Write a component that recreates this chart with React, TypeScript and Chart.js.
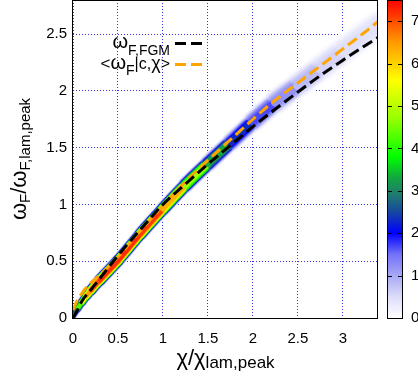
import React, { useEffect, useRef } from "react";
import { Chart, registerables } from "chart.js";

Chart.register(...registerables);

const FONT = "'Liberation Sans', Arial, Helvetica, sans-serif";

// FGM reference curve  ω_F,FGM(χ)
const chiFGM = [0, 0.05, 0.1, 0.2, 0.3, 0.5, 0.75, 1.0, 1.25, 1.5, 1.75, 2.0, 2.25, 2.5, 2.75, 3.0, 3.25, 3.39];
const omegaFGM = [0, 0.07, 0.15, 0.25, 0.35, 0.55, 0.78, 1.0, 1.18, 1.355, 1.52, 1.685, 1.84, 1.99, 2.135, 2.27, 2.4, 2.47];

// conditional mean <ω_F | c, χ>
const chiMean = [0, 0.05, 0.1, 0.15, 0.2, 0.3, 0.5, 0.75, 1.0, 1.25, 1.5, 1.75, 2.0, 2.25, 2.5, 2.75, 3.0, 3.25, 3.39];
const omegaMean = [0.07, 0.16, 0.22, 0.27, 0.31, 0.38, 0.54, 0.77, 0.99, 1.2, 1.39, 1.57, 1.75, 1.92, 2.07, 2.22, 2.37, 2.52, 2.61];

// joint PDF of (χ, ω_F): ridge location, peak value and spread in ω
const chiRidge = [0, 0.05, 0.1, 0.15, 0.2, 0.3, 0.5, 0.75, 1.0, 1.25, 1.5, 1.75, 2.0, 2.25, 2.5, 2.75, 3.0, 3.25, 3.39];
const omegaRidge = [0.02, 0.08, 0.14, 0.195, 0.245, 0.335, 0.505, 0.74, 0.96, 1.17, 1.36, 1.545, 1.73, 1.9, 2.05, 2.2, 2.35, 2.5, 2.58];
const pdfPeak = [2.2, 3.8, 5.3, 6.4, 7.1, 7.5, 7.5, 7.5, 7.3, 5.8, 4.1, 2.8, 2.0, 1.5, 1.0, 0.7, 0.5, 0.45, 0.4];
const pdfSpread = [0.042, 0.045, 0.048, 0.05, 0.052, 0.055, 0.057, 0.059, 0.06, 0.064, 0.068, 0.074, 0.082, 0.09, 0.097, 0.103, 0.108, 0.112, 0.112];

// axis ranges
const chiMax = 3.39;
const omegaMax = 2.8;
const tickStep = 0.5;
const pdfMax = 7.5;

// colour scale of the PDF
const cmapValues = [0, 0.5, 1, 1.5, 2, 2.5, 2.9, 3.3, 3.8, 4.7, 5.6, 6.5, 7.5];
const cmapColors = ["#ffffff", "#dcdcfa", "#a8a8f5", "#7272f8", "#0000ff", "#1646a0", "#1f7a70", "#12a540", "#00ff00", "#96ff00", "#ffff00", "#ff9a00", "#ff0000"];

// iso-levels (fraction of local peak) used to shade the PDF ribbon
const ribbonLevels = [0.04, 0.1, 0.18, 0.28, 0.4, 0.52, 0.64, 0.76, 0.88, 0.96];
const profilePower = 4;

const GRID = "rgba(30,30,220,0.9)";

function hexToRgb(h: string) {
  const n = parseInt(h.slice(1), 16);
  return [(n >> 16) & 255, (n >> 8) & 255, n & 255];
}
const cmapRgb = cmapColors.map(hexToRgb);

function cmap(v: number) {
  const t = Math.max(0, Math.min(pdfMax, v));
  let i = 0;
  while (i < cmapValues.length - 2 && t > cmapValues[i + 1]) i++;
  const a = cmapValues[i], b = cmapValues[i + 1];
  const f = b > a ? (t - a) / (b - a) : 0;
  const c0 = cmapRgb[i], c1 = cmapRgb[i + 1];
  const c = c0.map((x, k) => Math.round(x + (c1[k] - x) * f));
  return `rgb(${c[0]},${c[1]},${c[2]})`;
}

type Run = { text: string; size: number; dy?: number };

function drawRuns(ctx: CanvasRenderingContext2D, runs: Run[], x: number, y: number, align: "center" | "right") {
  const widths = runs.map((r) => {
    ctx.font = `${r.size}px ${FONT}`;
    return ctx.measureText(r.text).width;
  });
  const total = widths.reduce((s, w) => s + w, 0);
  let cur = align === "center" ? x - total / 2 : x - total;
  ctx.textAlign = "left";
  ctx.textBaseline = "alphabetic";
  runs.forEach((r, i) => {
    ctx.font = `${r.size}px ${FONT}`;
    ctx.fillText(r.text, cur, y + (r.dy || 0));
    cur += widths[i];
  });
}

const decorPlugin = {
  id: "decor",
  afterDraw(chart: any) {
    const { ctx, chartArea: a, scales } = chart;
    ctx.save();
    // plot frame
    ctx.strokeStyle = "#000";
    ctx.lineWidth = 1;
    ctx.setLineDash([]);
    const L = Math.round(a.left) - 0.5, R = Math.round(a.right) - 0.5;
    const T = Math.round(a.top) + 0.5, B = Math.round(a.bottom) + 0.5;
    ctx.strokeRect(L, T, R - L, B - T);

    // colour bar
    const cb = scales.cb;
    const bx = Math.round(cb.left) + 9;
    const bw = 15;
    const y0 = cb.getPixelForValue(0), y1 = cb.getPixelForValue(pdfMax);
    const g = ctx.createLinearGradient(0, y0, 0, y1);
    cmapValues.forEach((v, i) => g.addColorStop(v / pdfMax, cmapColors[i]));
    ctx.fillStyle = g;
    ctx.fillRect(bx, y1, bw, y0 - y1);
    ctx.strokeStyle = "#000";
    ctx.strokeRect(bx + 0.5, Math.round(y1) + 0.5, bw, Math.round(y0 - y1));
    cb.ticks.forEach((t: any) => {
      if (t.value <= 0 || t.value >= pdfMax) return;
      const yy = Math.round(cb.getPixelForValue(t.value)) + 0.5;
      ctx.beginPath();
      ctx.moveTo(bx, yy);
      ctx.lineTo(bx + 5, yy);
      ctx.moveTo(bx + bw - 4, yy);
      ctx.lineTo(bx + bw + 1, yy);
      ctx.stroke();
    });

    // axis titles
    ctx.fillStyle = "#000";
    drawRuns(ctx, [
      { text: "χ/χ", size: 22 },
      { text: "lam,peak", size: 17, dy: 3 },
    ], (a.left + a.right) / 2, 365, "center");

    ctx.save();
    ctx.translate(26, (a.top + a.bottom) / 2);
    ctx.rotate(-Math.PI / 2);
    drawRuns(ctx, [
      { text: "ω", size: 22 },
      { text: "F", size: 15, dy: 4 },
      { text: "/ω", size: 22 },
      { text: "F,lam,peak", size: 15, dy: 4 },
    ], 0, 0, "center");
    ctx.restore();

    // legend
    const lx = 170;
    drawRuns(ctx, [
      { text: "ω", size: 20 },
      { text: "F,FGM", size: 14, dy: 7 },
    ], lx, 48, "right");
    drawRuns(ctx, [
      { text: "<", size: 17 },
      { text: "ω", size: 20 },
      { text: "F", size: 14, dy: 6.5 },
      { text: "|c,", size: 16 },
      { text: "χ", size: 18 },
      { text: ">", size: 16 },
    ], lx, 68.5, "right");
    ctx.lineWidth = 3;
    ctx.setLineDash([11, 5]);
    ctx.strokeStyle = "#000";
    ctx.beginPath();
    ctx.moveTo(175, 43.5);
    ctx.lineTo(203, 43.5);
    ctx.stroke();
    ctx.strokeStyle = "#ffa500";
    ctx.beginPath();
    ctx.moveTo(175, 64.5);
    ctx.lineTo(203, 64.5);
    ctx.stroke();
    ctx.restore();
  },
};

function ribbonWidth(ctx: any, f: number) {
  const i = ctx.p0DataIndex, j = ctx.p1DataIndex;
  const s = (pdfSpread[i] + pdfSpread[j]) / 2;
  const ys = ctx.chart.scales.y;
  const pxPerUnit = Math.abs(ys.getPixelForValue(1) - ys.getPixelForValue(0));
  const dx = ctx.p1.x - ctx.p0.x, dy = ctx.p1.y - ctx.p0.y;
  const cos = Math.abs(dx) / Math.max(1e-6, Math.hypot(dx, dy));
  return 2 * Math.pow(-2 * Math.log(f), 1 / profilePower) * s * pxPerUnit * cos;
}

function ribbonColor(ctx: any, f: number) {
  const i = ctx.p0DataIndex, j = ctx.p1DataIndex;
  return cmap(f * (pdfPeak[i] + pdfPeak[j]) / 2);
}

const noPadding = (s: any) => {
  s.paddingTop = 0;
  s.paddingBottom = 0;
  s.paddingLeft = 0;
  s.paddingRight = 0;
};

const tickText = (v: any) => String(Math.round(Number(v) * 10) / 10);

export default function App() {
  const ref = useRef<HTMLCanvasElement>(null);

  useEffect(() => {
    if (!ref.current) return;
    const meanPts = chiMean.map((x, i) => ({ x, y: omegaMean[i] }));
    const fgmPts = chiFGM.map((x, i) => ({ x, y: omegaFGM[i] }));
    const ridgePts = chiRidge.map((x, i) => ({ x, y: omegaRidge[i] }));

    const ribbon = ribbonLevels.map((f, k) => ({
      type: "line" as const,
      data: ridgePts,
      borderColor: cmap(pdfPeak[6] * f),
      borderWidth: 2,
      pointRadius: 0,
      borderCapStyle: "round" as const,
      borderJoinStyle: "round" as const,
      cubicInterpolationMode: "monotone" as const,
      clip: 0,
      order: 100 - k,
      segment: {
        borderColor: (c: any) => ribbonColor(c, f),
        borderWidth: (c: any) => ribbonWidth(c, f),
      },
    }));

    const chart = new Chart(ref.current, {
      type: "line",
      data: {
        datasets: [
          {
            label: "ω_F,FGM",
            data: fgmPts,
            borderColor: "#000000",
            borderWidth: 3,
            borderDash: [11, 5],
            pointRadius: 0,
            cubicInterpolationMode: "monotone",
            clip: 0,
            order: 0,
          },
          {
            label: "<ω_F|c,χ>",
            data: meanPts,
            borderColor: "#ffa500",
            borderWidth: 3,
            borderDash: [11, 5],
            pointRadius: 0,
            cubicInterpolationMode: "monotone",
            clip: 0,
            order: 1,
          },
          ...ribbon,
        ] as any,
      },
      options: {
        responsive: false,
        animation: false,
        devicePixelRatio: 1,
        layout: { padding: 0, autoPadding: false },
        plugins: { legend: { display: false }, tooltip: { enabled: false } },
        scales: {
          x: {
            type: "linear",
            min: 0,
            max: chiMax,
            ticks: {
              stepSize: tickStep,
              includeBounds: false,
              autoSkip: false,
              maxRotation: 0,
              color: "#000",
              padding: 12,
              font: { family: FONT, size: 15 },
              callback: tickText,
            },
            grid: { color: GRID, lineWidth: 1, drawTicks: false },
            border: { display: false, dash: [1, 2] },
            afterFit: (s: any) => { s.height = 65; noPadding(s); },
          },
          y: {
            type: "linear",
            min: 0,
            max: omegaMax,
            ticks: {
              stepSize: tickStep,
              includeBounds: false,
              color: "#000",
              padding: 6,
              font: { family: FONT, size: 15 },
              callback: tickText,
            },
            grid: { color: GRID, lineWidth: 1, drawTicks: false },
            border: { display: false, dash: [1, 2] },
            afterFit: (s: any) => { s.width = 73; noPadding(s); },
          },
          cb: {
            type: "linear",
            position: "right",
            min: 0,
            max: pdfMax,
            ticks: {
              stepSize: 1,
              includeBounds: false,
              color: "#000",
              padding: 33,
              font: { family: FONT, size: 15 },
              callback: tickText,
            },
            grid: { display: false, drawTicks: false },
            border: { display: false },
            afterFit: (s: any) => { s.width = 40; noPadding(s); },
          },
        },
      } as any,
      plugins: [decorPlugin],
    });
    return () => chart.destroy();
  }, []);

  return (
    <div style={{ position: "fixed", left: 0, top: 0, width: 418, height: 383, background: "#fff" }}>
      <canvas ref={ref} width={418} height={383} style={{ display: "block" }} />
    </div>
  );
}
